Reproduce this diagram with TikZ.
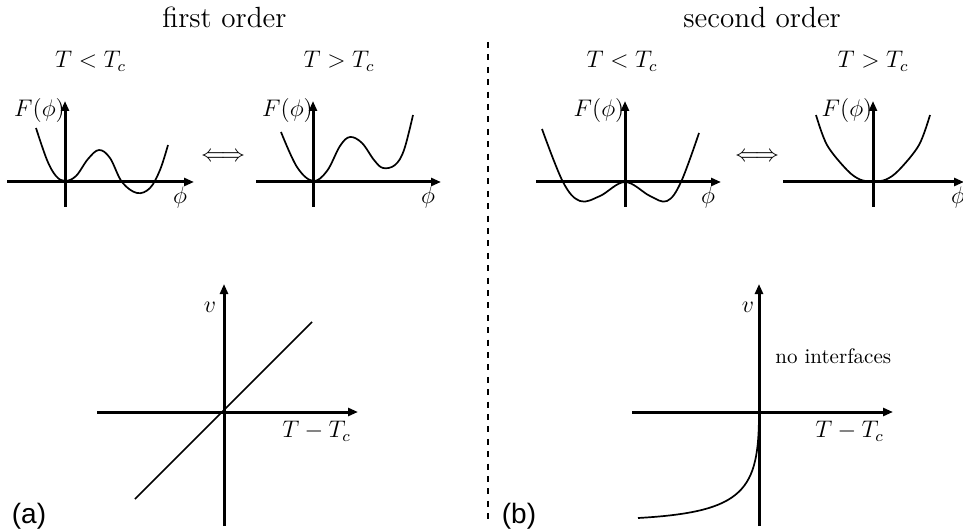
\documentclass[tikz,border=0pt]{standalone}
\usepackage{fontspec}
\newfontfamily\labsans{Liberation Sans}
\usetikzlibrary{arrows.meta}
\begin{document}
\begin{tikzpicture}[x=0.5pt,y=-0.5pt,
  axis/.style={line width=1.5pt,-{Triangle[length=5pt,width=4pt]}},
  curve/.style={line width=0.85pt,line join=round},
  mathlab/.style={inner sep=0pt,font=\fontsize{11.8}{14}\selectfont},
  title/.style={inner sep=0pt,font=\fontsize{14.6}{17}\selectfont},
  note/.style={inner sep=0pt,font=\fontsize{10.5}{13}\selectfont},
  panel/.style={inner sep=0pt,font=\labsans\fontsize{14}{17}\selectfont}]
\useasboundingbox (0,0) rectangle (963,529);

% titles
\node[title,anchor=base] (t1) at (224.5,28) {first order};
\node[title,anchor=base west] (t2) at (683,28) {second order};

% dashed separator
\coordinate (d1) at (488,42);
\coordinate (d2) at (488,522);
\draw[line width=1pt,dash pattern=on 3pt off 3.2pt] (d1) -- (d2);

% temperature labels
\node[mathlab,anchor=base] (l1) at (90.5,68) {$T<T_c$};
\node[mathlab,anchor=base] (l2) at (339,68) {$T>T_c$};
\node[mathlab,anchor=base] (l3) at (622,68) {$T<T_c$};
\node[mathlab,anchor=base] (l4) at (873,68) {$T>T_c$};

% equivalence arrows
\node[mathlab] (e1) at (223,157) {$\Longleftrightarrow$};
\node[mathlab] (e2) at (757,157) {$\Longleftrightarrow$};

% ---- panel 1
\coordinate (p1xl) at (7,182); \coordinate (p1xr) at (194,182);
\coordinate (p1yb) at (65,207); \coordinate (p1yt) at (65,101);
\draw[axis] (p1xl) -- (p1xr);
\draw[axis] (p1yb) -- (p1yt);
\draw[curve] plot[smooth,tension=0.6] coordinates {(36,128) (47,160) (56,176) (65,181) (76,176) (88,159) (99,150) (110,158) (122,182) (137,193) (150,188) (160,170) (168,145)};
\node[mathlab] (f1) at (39.5,111) {$F(\phi)$};
\node[mathlab] (x1) at (180,198) {$\phi$};

% ---- panel 2
\coordinate (p2xl) at (256,182); \coordinate (p2xr) at (441,182);
\coordinate (p2yb) at (313,207); \coordinate (p2yt) at (313,101);
\draw[axis] (p2xl) -- (p2xr);
\draw[axis] (p2yb) -- (p2yt);
\draw[curve] plot[smooth,tension=0.6] coordinates {(281,132) (297,167) (313,181) (327,171) (340,146) (350,137) (362,143) (374,160) (383,168) (395,165) (404,150) (413,115)};
\node[mathlab] (f2) at (287.5,111) {$F(\phi)$};
\node[mathlab] (x2) at (428,198) {$\phi$};

% ---- panel 3
\coordinate (p3xl) at (536,182); \coordinate (p3xr) at (721,182);
\coordinate (p3yb) at (625,207); \coordinate (p3yt) at (625,101);
\draw[axis] (p3xl) -- (p3xr);
\draw[axis] (p3yb) -- (p3yt);
\draw[curve] plot[smooth,tension=0.6] coordinates {(542,129) (563,182) (580,201) (600,196) (625,182) (650,196) (667,201) (681,182) (699,133)};
\node[mathlab] (f3) at (599,111) {$F(\phi)$};
\node[mathlab] (x3) at (708,198) {$\phi$};

% ---- panel 4
\coordinate (p4xl) at (783,182); \coordinate (p4xr) at (964,182);
\coordinate (p4yb) at (873,207); \coordinate (p4yt) at (873,101);
\draw[axis] (p4xl) -- (p4xr);
\draw[axis] (p4yb) -- (p4yt);
\draw[curve] plot[smooth,tension=0.55] coordinates {(816,115) (827,145) (847,170) (860,179.5) (873,181.5) (886,179.5) (899,170) (919,145) (930,115)};
\node[mathlab] (f4) at (847,111) {$F(\phi)$};
\node[mathlab] (x4) at (958,198) {$\phi$};

% ---- bottom left
\coordinate (b1xl) at (97,412); \coordinate (b1xr) at (358,412);
\coordinate (b1yb) at (224,526); \coordinate (b1yt) at (224,284);
\draw[axis] (b1xl) -- (b1xr);
\draw[axis] (b1yb) -- (b1yt);
\coordinate (s1) at (135,499); \coordinate (s2) at (312,322);
\draw[line width=0.75pt] (s1) -- (s2);
\node[mathlab] (v1) at (210,307) {$v$};
\node[mathlab] (tt1) at (316.5,431) {$T-T_c$};

% ---- bottom right
\coordinate (b2xl) at (632,412); \coordinate (b2xr) at (893,412);
\coordinate (b2yb) at (759,526); \coordinate (b2yt) at (759,284);
\draw[axis] (b2xl) -- (b2xr);
\draw[axis] (b2yb) -- (b2yt);
\coordinate (c0) at (759,412); \coordinate (c3) at (638,518);
\draw[curve] (c0) .. controls (759,490) and (745,512) .. (c3);
\node[mathlab] (v2) at (748,307) {$v$};
\node[mathlab] (tt2) at (849.5,431) {$T-T_c$};
\node[note,anchor=base west] (ni) at (775,363) {no interfaces};

% panel letters
\node[panel] (pa) at (29,516) {(a)};
\node[panel] (pb) at (519,516) {(b)};
\end{tikzpicture}
\end{document}
